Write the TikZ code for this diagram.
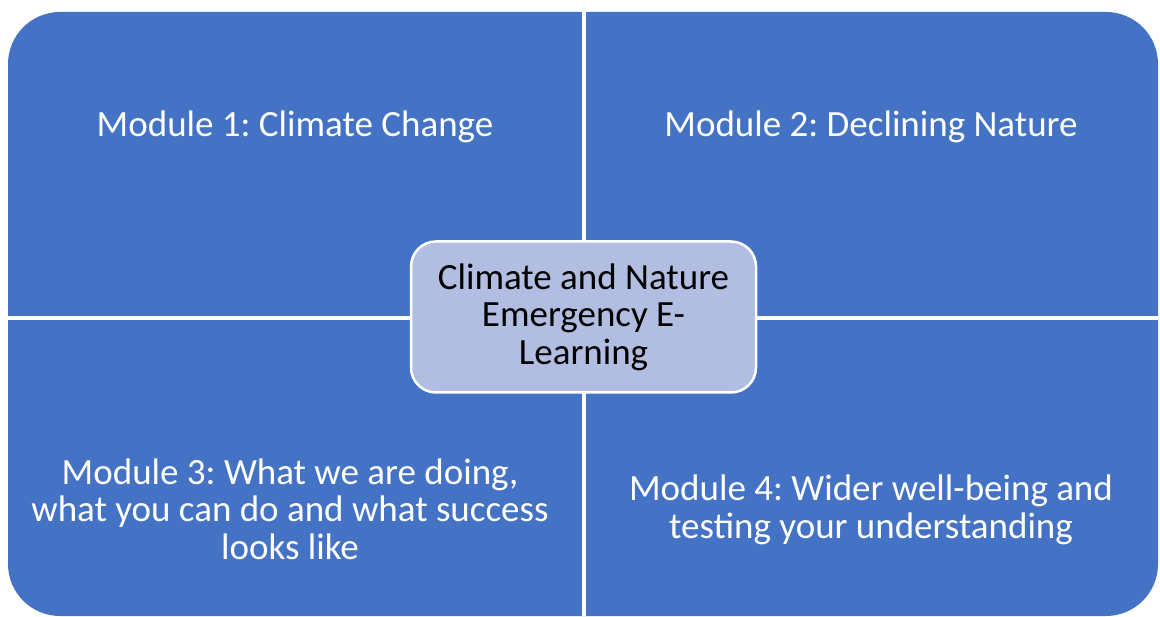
\documentclass[tikz,border=0pt]{standalone}
\usepackage{fontspec}
\setmainfont{Carlito}
\frenchspacing
\definecolor{modblue}{RGB}{68,114,196}
\definecolor{hubfill}{RGB}{178,190,225}

\begin{document}
\begin{tikzpicture}[x=1pt, y=-1pt,
    modtext/.style={text=white, align=center, font=\fontsize{37}{37.5}\selectfont},
    hubbox/.style={fill=hubfill, draw=white, line width=2.5pt, rounded corners=25pt,
        minimum width=345pt, minimum height=151pt, align=center,
        font=\fontsize{37}{37.5}\selectfont}]
    \useasboundingbox (0,0) rectangle (1160,617);

    % Blue background with the four modules
    \fill[modblue, rounded corners=52pt] (8,12) rectangle (1158,616);

    % White dividers between the quadrants
    \coordinate (top) at (584,12);
    \coordinate (bottom) at (584,616);
    \coordinate (left) at (8,318);
    \coordinate (right) at (1158,318);
    \draw[white, line width=3.5pt] (top) -- (bottom);
    \draw[white, line width=3.5pt] (left) -- (right);

    % Module labels
    \node[modtext] (mod1) at (295,127) {Module 1: Climate Change};
    \node[modtext] (mod2) at (871,127) {Module 2: Declining Nature};
    \node[modtext] (mod3) at (290,509) {Module 3: What we are doing,\\what you can do and what success\\looks like};
    \node[modtext] (mod4) at (871,510) {Module 4: Wider well-being and\\testing your understanding};

    % Centre box
    \node[hubbox] (hub) at (583.5,317) {Climate and Nature\\Emergency E-\\Learning};
\end{tikzpicture}
\end{document}
